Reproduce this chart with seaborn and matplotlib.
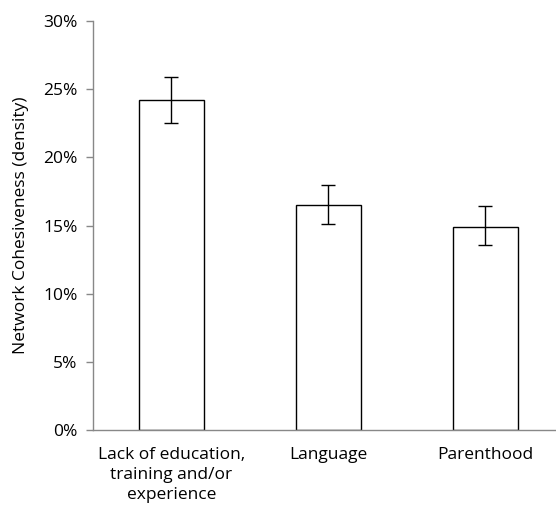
import numpy as np
import pandas as pd
import matplotlib
matplotlib.use("Agg")
import matplotlib.pyplot as plt
import seaborn as sns
from matplotlib.ticker import PercentFormatter

# Data
categories = ["Lack of education,\ntraining and/or\nexperience", "Language", "Parenthood"]
density = [24.2, 16.5, 14.9]
err_low = [22.5, 15.1, 13.6]
err_high = [25.9, 18.0, 16.4]

df = pd.DataFrame({"category": categories, "density": density})

sns.set_style("white")
plt.rcParams["font.family"] = ["Open Sans", "DejaVu Sans"]

fig = plt.figure(figsize=(5.56, 5.12), dpi=100)
ax = fig.add_axes([0.167, 0.160, 0.833, 0.799])

sns.barplot(data=df, x="category", y="density", color="white",
            edgecolor="black", linewidth=1.0, width=0.41, ax=ax)

# asymmetric error bars
yerr = [np.array(density) - np.array(err_low), np.array(err_high) - np.array(density)]
ax.errorbar(np.arange(len(categories)), density, yerr=yerr, fmt="none",
            ecolor="black", elinewidth=1.0, capsize=5, capthick=1.0)

ax.set_ylim(0, 30)
ax.set_yticks(np.arange(0, 31, 5))
ax.yaxis.set_major_formatter(PercentFormatter(decimals=0))
ax.set_xlim(-0.5, 2.45)

ax.set_xlabel("")
ax.set_ylabel("Network Cohesiveness (density)", fontsize=12.5, color="black", labelpad=10)

# category labels centred, ticks at boundaries
ax.set_xticks(np.arange(len(categories)))
ax.set_xticklabels(categories, fontsize=12.5, color="black", linespacing=1.35)
ax.set_xticks([-0.5, 0.5, 1.5], minor=True)
ax.tick_params(axis="x", which="major", length=0, pad=12)
ax.tick_params(axis="x", which="minor", length=5, color="#888888", width=1)
ax.tick_params(axis="y", length=5, color="#888888", width=1, labelsize=12.5,
               labelcolor="black", direction="out", left=True, pad=6)

for s in ["top", "right"]:
    ax.spines[s].set_visible(False)
for s in ["left", "bottom"]:
    ax.spines[s].set_color("#888888")
    ax.spines[s].set_linewidth(1)

fig.savefig("out.png", dpi=100)
